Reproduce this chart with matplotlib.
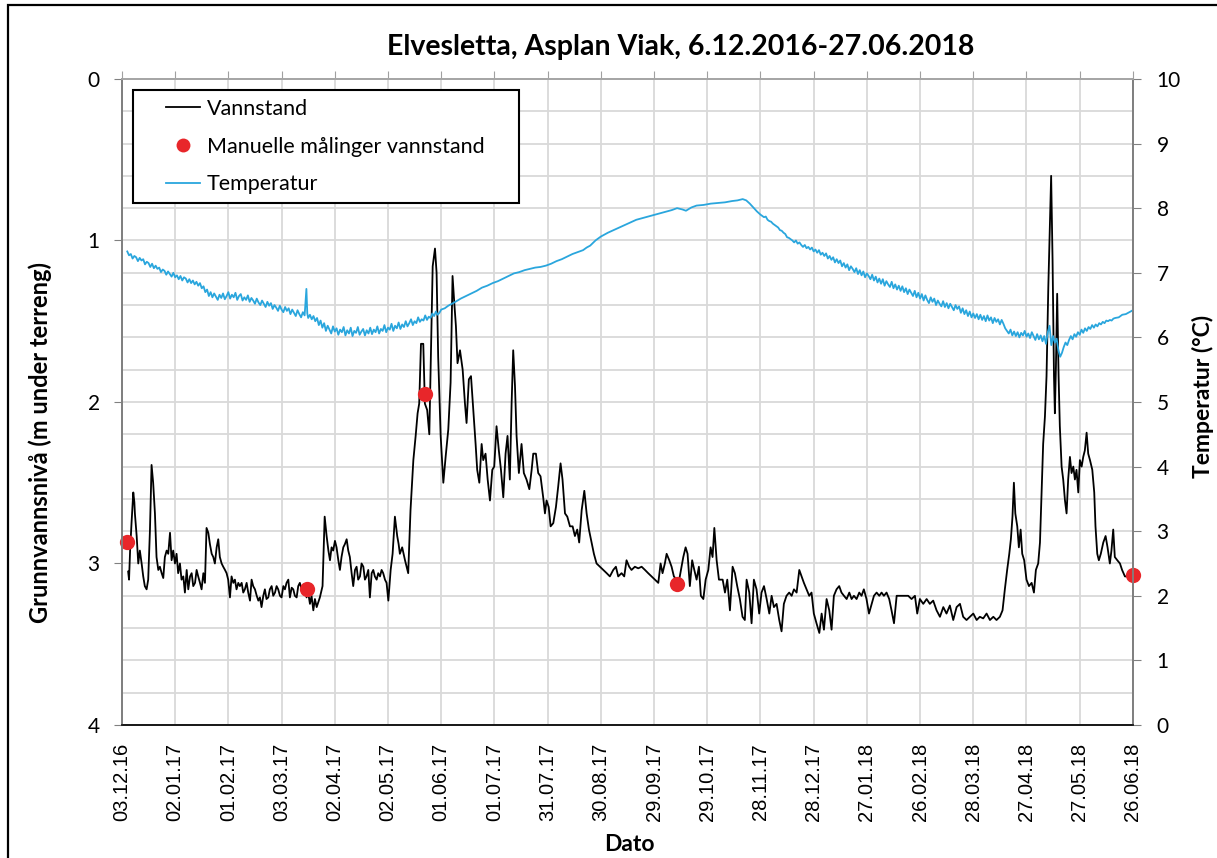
import numpy as np
import pandas as pd
import matplotlib
matplotlib.use('Agg')
import matplotlib.pyplot as plt
import matplotlib.dates as mdates
from matplotlib.ticker import MultipleLocator
from matplotlib.lines import Line2D
from matplotlib.patches import Rectangle
from matplotlib.legend_handler import HandlerLine2D

# ---- data (day offsets from 03.12.2016) ----
start = pd.Timestamp('2016-12-03')

level_days = [
    3.5, 4.0, 4.6, 5.4, 6.4, 7.0, 7.3, 8.3, 9.2, 10.1, 11.1, 12.0, 12.9, 13.9, 14.8,
    15.8, 16.7, 17.6, 18.6, 19.5, 20.5, 21.4, 22.4, 23.3, 24.2, 25.2, 26.1, 27.1, 28.0,
    28.9, 29.9, 30.8, 31.7, 32.7, 33.6, 34.6, 35.5, 36.5, 37.4, 38.4, 39.3, 40.2, 41.2,
    42.1, 43.0, 44.0, 44.9, 45.9, 46.8, 47.7, 48.7, 49.6, 50.6, 51.5, 52.4, 53.4, 54.3,
    55.2, 56.2, 57.1, 58.1, 59.0, 59.9, 60.9, 61.8, 62.8, 63.7, 64.6, 65.6, 66.5, 67.5,
    68.4, 69.3, 70.3, 71.2, 72.2, 73.1, 74.0, 75.0, 76.0, 76.9, 77.8, 78.7, 79.7, 80.6,
    81.5, 82.5, 83.4, 84.4, 85.3, 86.3, 87.2, 88.1, 89.1, 90.0, 91.0, 91.9, 92.8, 93.8,
    94.7, 95.7, 96.6, 97.5, 98.5, 99.4, 100.3, 101.3, 102.2, 103.2, 104.1, 105.0, 106.0,
    106.9, 107.9, 108.8, 109.8, 110.7, 111.6,
    113.1, 114.3, 115.4, 116.4, 117.3, 118.2, 119.1, 120.1, 121.0, 122.0, 122.9, 123.8,
    124.8, 125.7, 126.7, 127.6, 128.5, 129.5, 130.4, 131.4, 132.3, 133.2, 134.2, 135.1,
    136.1, 137.0, 137.9, 138.9, 139.8, 140.8, 141.7, 142.6, 143.6, 144.5, 145.5, 146.4,
    147.3, 148.3, 149.2, 150.2, 151.5, 152.6, 153.9, 155.2, 156.0, 156.7, 158.0, 159.6,
    160.5, 161.4, 162.7, 164.3, 165.6, 166.7, 167.6, 168.6, 169.9, 170.8, 172.1, 173.3,
    174.2, 175.2, 176.5, 177.4, 178.3, 179.7, 181.2, 182.5, 184.0, 185.3, 186.4, 187.4,
    188.3, 189.2, 190.6, 192.1, 193.4, 194.3, 195.6, 196.8, 198.1, 199.4, 200.3, 201.5,
    202.8, 203.7, 205.0, 206.2, 207.5, 208.8, 209.9, 211.2, 212.5, 213.7, 215.0, 216.3,
    217.4, 218.7, 219.7, 220.6, 221.6, 222.5, 223.8,
    225.3, 226.6, 228.1, 229.7, 231.0, 231.9, 233.4, 234.7, 236.0, 237.5, 238.5, 239.4,
    240.6, 241.7, 243.2, 244.7, 246.0, 247.3, 248.4, 249.8, 251.1, 252.6, 254.1, 255.4,
    256.7, 257.8, 259.2, 260.7, 262.0, 263.3, 264.8, 266.1, 267.6, 269.5, 271.4, 273.3,
    275.1, 277.0, 278.5, 279.8, 281.7, 283.2, 284.5, 286.0, 287.3, 289.2, 291.1, 293.0,
    294.9, 296.7, 298.6, 300.5, 302.4, 303.7, 304.8, 306.1, 307.1, 308.6, 309.9, 311.2,
    312.7, 314.2, 315.5, 316.5, 317.8, 318.9, 320.2, 321.5, 322.7, 324.0, 325.3, 326.4,
    327.8, 329.1, 330.6, 331.9, 333.0, 334.0, 335.3, 336.6,
    338.7, 340.0, 341.3, 342.8, 344.3, 345.6, 346.9, 348.4, 349.9, 351.2, 352.2, 353.7,
    355.0, 356.3, 357.8, 359.3, 360.6, 362.0, 363.5, 365.0, 366.3, 367.6, 369.1, 370.6,
    371.9, 373.2, 374.7, 376.2, 377.6, 378.9, 380.4, 381.9, 383.2, 384.5, 386.0, 387.5,
    388.8, 390.1, 391.6, 393.2, 394.5, 395.8, 397.3, 398.8, 400.1, 401.4, 402.9, 404.4,
    405.7, 407.1, 408.6, 410.1, 411.4, 412.7, 414.2, 415.7, 417.0, 418.3, 419.8, 421.2,
    422.7, 424.0, 425.5, 427.0, 428.3, 429.6, 431.1, 432.6, 433.9, 435.3, 436.8, 438.3,
    439.6, 441.5, 443.3, 445.2, 447.1, 448.4, 449.9, 451.8, 453.7, 455.5,
    457.4, 459.3, 461.2, 463.1, 464.9, 466.8, 468.7, 470.6, 472.5, 474.3, 476.2, 478.1,
    480.0, 481.9, 483.7, 485.6, 487.5, 489.4, 491.3, 493.1, 495.0, 496.5, 497.8, 499.1,
    500.3, 501.2, 502.1, 502.9, 503.7, 504.8, 505.7, 506.7, 507.6, 508.7, 510.0, 511.4,
    512.9, 514.2, 515.3, 516.6, 517.6, 518.5, 519.4, 520.4, 521.3, 522.3, 523.2, 523.9,
    524.7, 525.5, 526.0, 526.6, 527.3, 528.1, 528.8, 529.8, 530.7, 531.7, 532.6, 533.5,
    534.5, 535.4, 536.4, 537.3, 538.2, 539.2, 540.1, 541.1, 542.0, 542.9, 543.9, 544.8,
    545.8, 547.1, 548.2, 548.9, 549.9, 550.8, 551.9, 553.3, 554.6, 555.7, 557.0, 557.9,
    558.9, 559.8, 561.2, 562.7, 563.9, 565.5, 567.4, 569.2, 569.8,
]
level_m = [
    3.05, 3.10, 2.92, 2.75, 2.56, 2.62, 2.69, 2.83, 3.00, 2.92, 3.00, 3.08, 3.14, 3.16, 3.10,
    2.79, 2.39, 2.50, 2.69, 2.96, 3.04, 3.02, 3.06, 3.09, 2.96, 2.92, 2.94, 2.81, 2.98,
    2.92, 3.00, 2.94, 3.06, 3.00, 3.10, 3.08, 3.18, 3.04, 3.16, 3.08, 3.06, 3.14, 3.12,
    3.04, 3.08, 3.12, 3.16, 3.06, 3.12, 2.78, 2.81, 2.88, 2.94, 2.96, 3.00, 2.90, 2.85,
    2.96, 3.00, 3.02, 3.04, 3.06, 3.10, 3.21, 3.08, 3.12, 3.10, 3.16, 3.12, 3.14, 3.12,
    3.18, 3.16, 3.12, 3.18, 3.23, 3.10, 3.14, 3.16, 3.20, 3.23, 3.21, 3.27, 3.20, 3.16,
    3.22, 3.21, 3.16, 3.14, 3.20, 3.18, 3.14, 3.16, 3.20, 3.21, 3.14, 3.16, 3.12, 3.10,
    3.21, 3.15, 3.16, 3.20, 3.21, 3.14, 3.12, 3.16, 3.18, 3.14, 3.21, 3.18, 3.25,
    3.20, 3.29, 3.22, 3.27, 3.24, 3.21,
    3.14, 2.71, 2.83, 2.92, 2.98, 2.90, 2.92, 2.86, 2.90, 2.98, 3.04, 2.96,
    2.90, 2.88, 2.85, 2.92, 2.96, 3.06, 3.14, 3.04, 3.02, 3.10, 3.08, 3.00,
    3.02, 3.10, 3.08, 3.04, 3.21, 3.06, 3.04, 3.08, 3.10, 3.06, 3.08, 3.04,
    3.06, 3.10, 3.12, 3.23, 3.04, 2.94, 2.71, 2.83, 2.88, 2.94, 2.90, 2.98,
    3.02, 3.06, 2.67, 2.36, 2.21, 2.07, 2.01, 1.64, 1.64, 2.01, 2.05, 2.20,
    1.72, 1.16, 1.05, 1.20, 1.72, 2.21, 2.50, 2.34, 2.17, 1.88, 1.22, 1.39,
    1.53, 1.76, 1.68, 1.80, 2.01, 2.13, 1.86, 1.84, 2.05, 2.26, 2.42, 2.50,
    2.26, 2.36, 2.32, 2.48, 2.61, 2.42, 2.40, 2.15, 2.30, 2.42, 2.59, 2.32,
    2.21, 2.48, 2.01, 1.68, 1.90, 2.21, 2.44,
    2.26, 2.44, 2.48, 2.54, 2.42, 2.32, 2.32, 2.44, 2.46, 2.59, 2.69, 2.61,
    2.65, 2.77, 2.75, 2.65, 2.52, 2.38, 2.48, 2.69, 2.71, 2.77, 2.77, 2.83,
    2.79, 2.87, 2.67, 2.55, 2.69, 2.79, 2.87, 2.94, 3.00, 3.02, 3.04, 3.06,
    3.08, 3.04, 3.02, 3.08, 3.06, 3.08, 2.98, 3.02, 3.04, 3.02, 3.03, 3.02,
    3.04, 3.06, 3.08, 3.10, 3.12, 3.00, 3.06, 3.00, 2.94, 2.98, 3.02, 3.08,
    3.10, 3.10, 3.02, 2.96, 2.90, 2.94, 3.14, 2.98, 3.04, 3.10, 3.02, 3.20,
    3.22, 3.10, 3.04, 2.90, 2.96, 2.78, 2.98, 3.10,
    3.10, 3.18, 3.10, 3.29, 3.02, 3.06, 3.14, 3.22, 3.33, 3.35, 3.10, 3.18,
    3.37, 3.10, 3.16, 3.31, 3.18, 3.14, 3.22, 3.31, 3.20, 3.27, 3.25, 3.35,
    3.42, 3.25, 3.20, 3.18, 3.20, 3.16, 3.18, 3.04, 3.08, 3.12, 3.16, 3.20,
    3.18, 3.31, 3.37, 3.43, 3.31, 3.41, 3.22, 3.29, 3.41, 3.20, 3.16, 3.14,
    3.18, 3.20, 3.22, 3.18, 3.22, 3.20, 3.22, 3.18, 3.20, 3.16, 3.22, 3.31,
    3.25, 3.20, 3.18, 3.20, 3.18, 3.20, 3.18, 3.22, 3.29, 3.37, 3.20, 3.20,
    3.20, 3.20, 3.20, 3.22, 3.20, 3.31, 3.22, 3.25, 3.22, 3.25,
    3.23, 3.29, 3.33, 3.27, 3.31, 3.26, 3.35, 3.27, 3.25, 3.33, 3.35, 3.33,
    3.31, 3.35, 3.33, 3.34, 3.31, 3.35, 3.33, 3.35, 3.33, 3.29, 3.16, 3.04,
    2.94, 2.85, 2.71, 2.50, 2.69, 2.77, 2.90, 2.79, 2.94, 2.98, 3.10, 3.14,
    3.12, 3.18, 3.04, 3.00, 2.87, 2.56, 2.26, 2.09, 1.84, 1.29, 0.91, 0.60,
    1.12, 1.84, 2.07, 1.78, 1.33, 1.84, 2.15, 2.40, 2.48, 2.61, 2.69, 2.48,
    2.34, 2.44, 2.40, 2.48, 2.42, 2.56, 2.36, 2.40, 2.34, 2.30, 2.19, 2.32,
    2.36, 2.42, 2.56, 2.77, 2.94, 2.98, 2.94, 2.87, 2.83, 2.90, 3.00, 2.92,
    2.79, 2.96, 2.98, 3.00, 3.04, 3.08, 3.08, 3.07, 3.07,
]

manual_days = [2.8, 104.3, 171.0, 312.7, 569.9]
manual_m = [2.87, 3.16, 1.95, 3.13, 3.07]

temp_days = [
    3, 4, 5, 6, 7, 8, 9, 10, 11, 12, 13, 14, 15, 16, 17, 18, 19, 20, 21, 22, 23, 24, 25,
    26, 27, 28, 29, 30, 31, 32, 33, 34, 35, 36, 37, 38, 39, 40, 41, 42, 43, 44, 45, 46,
    47, 48, 49, 50, 51, 52, 53, 54, 55, 56, 57, 58, 59, 60, 61, 62, 63, 64, 65, 66, 67,
    68, 69, 70, 71, 72, 73, 74, 75, 76, 77, 78, 79, 80, 81, 82, 83, 84, 85, 86, 87, 88,
    89, 90, 91, 92, 93, 94, 95, 96, 97, 98, 99, 100, 101, 102, 103, 104, 104.5, 105, 106,
    107, 108, 109, 110, 111, 112, 113, 114, 115, 116, 117, 118, 119, 120, 121, 122, 123,
    124, 125, 126, 127, 128, 129, 130, 131, 132, 133, 134, 135, 136, 137, 138, 139, 140,
    141, 142, 143, 144, 145, 146, 147, 148, 149, 150, 151, 152, 153, 154, 155, 156, 157,
    158, 159, 160, 161, 162, 163, 164, 165, 166, 167, 168, 169, 170, 171, 172, 173, 174,
    175, 176, 177, 178, 179, 180, 182, 184,
    188, 191, 194, 197, 200, 203, 206, 209, 212, 215, 218, 221, 224, 227, 230, 233, 236,
    239, 242, 245, 248, 251, 254, 257, 260, 262, 264, 267, 270, 274, 278, 282, 286, 290,
    294, 298, 302, 306, 310, 313, 316, 318, 321, 324, 328, 332, 336, 340, 344, 347, 350,
    352, 354, 356, 358, 360, 362, 363, 364, 365, 366, 367, 368, 369, 370, 371, 372, 373,
    374, 375, 376, 377, 378, 379, 380, 381, 382, 383, 384, 385, 386, 387, 388, 389, 390,
    391, 392, 393, 394, 395, 396, 397, 398, 399, 400, 401, 402, 403, 404, 405, 406, 407,
    408, 409, 410, 411, 412, 413, 414, 415, 416, 417, 418, 419, 420, 421, 422, 423, 424,
    425, 426, 427, 428, 429, 430, 431, 432, 433, 434, 435, 436, 437, 438, 439, 440, 441,
    442, 443, 444, 445, 446, 447, 448, 449, 450, 451, 452, 453, 454, 455, 456, 457, 458,
    459, 460, 461, 462, 463, 464, 465, 466, 467, 468, 469, 470, 471, 472, 473, 474, 475,
    476, 477, 478, 479, 480, 481, 482, 483, 484, 485, 486, 487, 488, 489, 490, 491, 492,
    493, 494, 495, 496, 497, 498, 499, 500, 501, 502, 503, 504, 505, 506, 507, 508, 509,
    510, 511, 512, 513, 514, 515, 516, 517, 518, 519, 520, 521, 522, 523, 524, 525, 526,
    527, 528, 529, 530, 531, 532, 533, 534, 535, 536, 537, 538, 539, 540, 541, 542, 543,
    544, 545, 546, 547, 548, 549, 550, 551, 552, 553, 554, 555, 556, 557, 558, 559, 560,
    562, 564, 566, 568, 570,
]
temp_c = [
    7.33, 7.27, 7.29, 7.22, 7.26, 7.24, 7.18, 7.23, 7.19, 7.21, 7.13, 7.17, 7.15, 7.09,
    7.14, 7.07, 7.11, 7.06, 7.08, 7.01, 7.05, 7.03, 6.97, 7.02, 6.98, 6.94, 7.00, 6.93,
    6.96, 6.90, 6.95, 6.88, 6.93, 6.91, 6.85, 6.90, 6.84, 6.88, 6.82, 6.86, 6.80, 6.84,
    6.76, 6.79, 6.70, 6.74, 6.64, 6.70, 6.62, 6.68, 6.63, 6.58, 6.66, 6.61, 6.68, 6.59,
    6.64, 6.70, 6.60, 6.66, 6.62, 6.69, 6.58, 6.64, 6.67, 6.57, 6.62, 6.58, 6.65, 6.55,
    6.61, 6.57, 6.52, 6.60, 6.54, 6.50, 6.57, 6.52, 6.47, 6.55, 6.49, 6.53, 6.44, 6.50,
    6.46, 6.41, 6.49, 6.43, 6.39, 6.47, 6.41, 6.45, 6.36, 6.43, 6.38, 6.33, 6.42, 6.36,
    6.31, 6.39, 6.34, 6.75, 6.37, 6.30, 6.35, 6.28, 6.33, 6.25, 6.30, 6.19, 6.26, 6.15,
    6.22, 6.10, 6.18, 6.12, 6.06, 6.17, 6.09, 6.14, 6.04, 6.12, 6.08, 6.16, 6.03, 6.11,
    6.06, 6.15, 6.02, 6.10, 6.07, 6.16, 6.04, 6.09, 6.13, 6.03, 6.11, 6.06, 6.15, 6.05,
    6.12, 6.08, 6.17, 6.06, 6.13, 6.10, 6.19, 6.08, 6.15, 6.12, 6.21, 6.10, 6.18, 6.14,
    6.23, 6.13, 6.20, 6.16, 6.25, 6.17, 6.22, 6.28, 6.19, 6.25, 6.22, 6.31, 6.24, 6.28,
    6.26, 6.34, 6.27, 6.32, 6.30, 6.37, 6.33, 6.40, 6.35, 6.38, 6.43, 6.45, 6.49,
    6.55, 6.60, 6.64, 6.68, 6.72, 6.77, 6.80, 6.84, 6.87, 6.91, 6.95, 6.99, 7.01, 7.04,
    7.06, 7.08, 7.09, 7.11, 7.14, 7.18, 7.21, 7.25, 7.29, 7.32, 7.35, 7.39, 7.42, 7.50,
    7.56, 7.62, 7.67, 7.72, 7.77, 7.82, 7.85, 7.88, 7.91, 7.94, 7.97, 8.00, 7.98, 7.96,
    8.01, 8.04, 8.05, 8.07, 8.08, 8.09, 8.11, 8.12, 8.14,
    8.12, 8.07, 8.01, 7.95, 7.90, 7.86, 7.87, 7.82, 7.80, 7.79, 7.76, 7.74, 7.72, 7.70,
    7.66, 7.65, 7.62, 7.60, 7.55, 7.54, 7.52, 7.50, 7.47, 7.50, 7.45, 7.47, 7.43, 7.40,
    7.43, 7.38, 7.40, 7.36, 7.39, 7.33, 7.36, 7.31, 7.35, 7.28, 7.31, 7.26, 7.30, 7.22,
    7.26, 7.20, 7.24, 7.16, 7.21, 7.15, 7.19, 7.10, 7.15, 7.08, 7.13, 7.04, 7.10, 7.06,
    7.01, 7.07, 6.98, 7.04, 6.96, 7.02, 6.93, 6.99, 6.95, 6.90, 6.97, 6.88, 6.94, 6.85,
    6.91, 6.83, 6.90, 6.80, 6.87, 6.82, 6.78, 6.86, 6.76, 6.82, 6.74, 6.80, 6.72, 6.79,
    6.70, 6.76, 6.67, 6.74, 6.69, 6.64, 6.72, 6.62, 6.69, 6.60, 6.67, 6.57, 6.65, 6.58,
    6.53, 6.62, 6.55, 6.60, 6.50, 6.57, 6.52, 6.48, 6.56, 6.47, 6.53, 6.45, 6.52, 6.47,
    6.42, 6.50, 6.44, 6.48, 6.38, 6.45, 6.36, 6.42, 6.33, 6.40, 6.31, 6.37, 6.30, 6.36,
    6.28, 6.35, 6.27, 6.33, 6.25, 6.34, 6.26, 6.31, 6.22, 6.30, 6.24, 6.28, 6.20, 6.27,
    6.21, 6.14, 6.10, 6.06, 6.12, 6.03, 6.09, 6.02, 6.08, 6.00, 6.07, 6.03, 6.10, 6.01,
    6.06, 5.99, 6.08, 6.02, 5.96, 6.05, 5.97, 6.03, 5.94, 6.02, 5.90, 6.08, 6.18, 5.88,
    6.02, 5.92, 5.98, 5.80, 5.70, 5.76, 5.85, 5.92, 5.88, 5.96, 6.02, 5.97, 6.05, 6.01,
    6.08, 6.04, 6.12, 6.07, 6.14, 6.10, 6.16, 6.13, 6.19, 6.15, 6.20, 6.17, 6.22, 6.20,
    6.24, 6.22, 6.26, 6.25, 6.27, 6.26, 6.29, 6.30, 6.31, 6.35, 6.36, 6.39, 6.42,
]


def to_dates(days):
    return start + pd.to_timedelta(np.asarray(days, dtype=float), unit='D')


class ShiftedLine(HandlerLine2D):
    # legend handle drawn only in the right part of the handle box
    def create_artists(self, legend, orig_handle, xdescent, ydescent, width,
                       height, fontsize, trans):
        arts = super().create_artists(legend, orig_handle, xdescent, ydescent,
                                      width, height, fontsize, trans)
        x0 = -xdescent + width * 0.42
        x1 = -xdescent + width
        for a in arts:
            n = len(a.get_xdata())
            a.set_xdata(np.linspace(x0, x1, n))
        return arts


plt.rcParams['font.family'] = ['Lato', 'DejaVu Sans']

fig = plt.figure(figsize=(12.17, 8.58), dpi=100)
ax = fig.add_axes([0.1002, 0.155, 0.8307, 0.753])
ax2 = ax.twinx()

ax.plot(to_dates(level_days), level_m, color='black', lw=1.3, zorder=3)
ax.plot(to_dates(manual_days), manual_m, 'o', color='#e8262a', ms=11, mec='none',
        zorder=4, clip_on=False)
ax2.plot(to_dates(temp_days), temp_c, color='#2aa6dd', lw=1.3)

xmin, xmax = start, start + pd.Timedelta(days=570)
ax.set_xlim(xmin, xmax)
ax.set_ylim(4, 0)
ax2.set_ylim(0, 10)

ax.set_xticks(pd.date_range(start, periods=20, freq='30D'))
ax.xaxis.set_major_formatter(mdates.DateFormatter('%d.%m.%y'))
for lab in ax.get_xticklabels():
    lab.set_rotation(90)
    lab.set_fontfamily('Liberation Sans')
    lab.set_fontsize(14.5)
ax.tick_params(axis='x', bottom=False, top=True, labelbottom=True, labeltop=False,
               direction='out', length=6, color='#a0a0a0', pad=7)

ax.yaxis.set_major_locator(MultipleLocator(1))
ax.yaxis.set_minor_locator(MultipleLocator(0.2))
ax.tick_params(axis='y', which='major', direction='out', length=6, color='#808080',
               labelsize=15, pad=10)
ax.tick_params(axis='y', which='minor', length=0)
ax2.yaxis.set_major_locator(MultipleLocator(1))
ax2.tick_params(axis='y', direction='out', length=6, color='#808080', labelsize=15, pad=11)

ax.grid(True, which='both', axis='y', color='#d9d9d9', lw=1.3)
ax.grid(True, which='major', axis='x', color='#d9d9d9', lw=1.3)
ax.set_axisbelow(True)

for a in (ax, ax2):
    a.spines['left'].set_color('#808080')
    a.spines['right'].set_color('#808080')
    a.spines['top'].set_color('#a6a6a6')
    a.spines['bottom'].set_color('#1a1a1a')
    for sp in a.spines.values():
        sp.set_linewidth(1.3)

ax.set_ylabel('Grunnvannsnivå (m under terreng)', fontsize=17, fontweight='bold')
ax.yaxis.set_label_coords(-0.069, 0.437)
ax2.set_ylabel('Temperatur (°C)', fontsize=16.5, fontweight='bold')
ax2.yaxis.set_label_coords(1.058, 0.508)
ax.set_xlabel('Dato', fontsize=16.5, fontweight='bold')
ax.xaxis.set_label_coords(0.502, -0.168)

fig.text(0.559, 0.945, 'Elvesletta, Asplan Viak, 6.12.2016-27.06.2018',
         ha='center', va='center', fontsize=20.5, fontweight='bold')

handles = [
    Line2D([], [], color='black', lw=1.3),
    Line2D([], [], ls='none', marker='o', color='#e8262a', ms=10, mec='none'),
    Line2D([], [], color='#2aa6dd', lw=1.3),
]
labels = ['Vannstand', 'Manuelle målinger vannstand', 'Temperatur']
leg = ax2.legend(handles, labels, loc='upper left',
                 bbox_to_anchor=(0.0109, 0.70, 0.3818, 0.283), mode='expand',
                 borderaxespad=0, fontsize=15.5, frameon=True, fancybox=False,
                 edgecolor='black', handlelength=2.7, handletextpad=0.3,
                 labelspacing=0.82, borderpad=0.42,
                 handler_map={Line2D: ShiftedLine()})
leg.get_frame().set_linewidth(1.5)
leg.get_frame().set_alpha(1)

# outer frame of the chart object
fig.add_artist(Rectangle((8 / 1217, -0.05), 1.05, 1.0442, transform=fig.transFigure,
                         fill=False, edgecolor='black', lw=1.6))

fig.savefig('out.png', dpi=100)
